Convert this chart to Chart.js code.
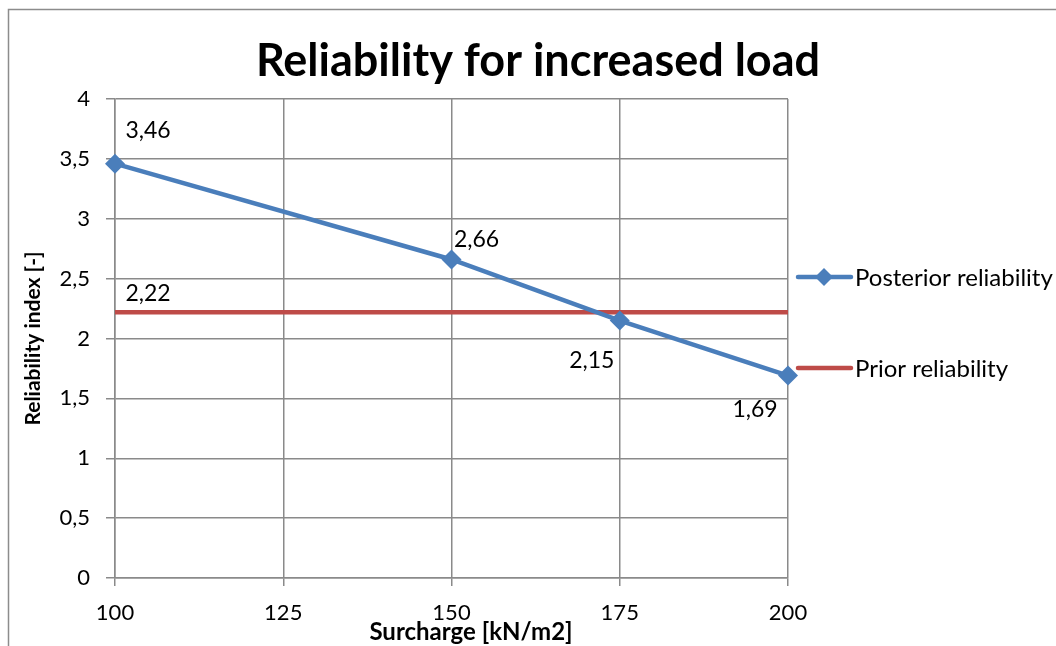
<!DOCTYPE html>
<html>
<head>
<meta charset="utf-8">
<script src="https://cdn.jsdelivr.net/npm/chart.js@4.4.1/dist/chart.umd.min.js"></script>
<style>
  html, body { margin: 0; padding: 0; background: #fff; }
  #wrap { width: 1056px; height: 646px; }
</style>
</head>
<body>
<div id="wrap"><canvas id="relChart" width="1056" height="646"></canvas></div>
<script>
// --- data ---
const surcharge = [100, 150, 175, 200];
const posterior = [3.46, 2.66, 2.15, 1.69];
const priorX = [100, 200];
const priorValue = 2.22;
const xTicks = [100, 125, 150, 175, 200];
const yTicks = [0, 0.5, 1, 1.5, 2, 2.5, 3, 3.5, 4];
const seriesNames = ['Posterior reliability', 'Prior reliability'];

// label offsets (px) for each posterior point, then the prior label
const postLabelOffset = [[33, -33], [25, -20], [-28, 40], [-33, 34]];
const priorLabelOffset = [33, -19];

const BLUE = '#4A7EBB';
const RED = '#BE4B48';
const GRID = '#8A8A8A';
const FONT = 'Lato, "Open Sans", sans-serif';

const fmt = v => String(v).replace('.', ',');

const extras = {
    id: 'extras',
    beforeDraw(chart) {
        const c = chart.ctx;
        c.save();
        c.fillStyle = '#fff';
        c.fillRect(0, 0, chart.width, chart.height);
        c.strokeStyle = '#8C8C8C';
        c.lineWidth = 1.5;
        c.strokeRect(8.5, 9.5, 1200, 800);
        c.restore();
    },
    afterDatasetsDraw(chart) {
        const c = chart.ctx;
        c.save();
        c.fillStyle = '#000';
        c.font = '23px ' + FONT;
        c.textAlign = 'center';
        c.textBaseline = 'middle';
        chart.getDatasetMeta(0).data.forEach((p, i) => {
            c.fillText(fmt(posterior[i]), p.x + postLabelOffset[i][0], p.y + postLabelOffset[i][1]);
        });
        const p0 = chart.getDatasetMeta(1).data[0];
        c.fillText(fmt(priorValue), p0.x + priorLabelOffset[0], p0.y + priorLabelOffset[1]);
        c.restore();
    },
    afterDraw(chart) {
        const c = chart.ctx;
        const a = chart.chartArea;
        c.save();
        c.fillStyle = '#000';
        c.textAlign = 'center';
        c.textBaseline = 'middle';
        // title
        c.font = 'bold 45px ' + FONT;
        c.fillText('Reliability for increased load', 538, 61);
        // x axis title
        c.font = 'bold 24px ' + FONT;
        c.fillText('Surcharge [kN/m2]', 471, 632);

        // legend
        c.textAlign = 'left';
        c.font = '24px ' + FONT;
        const lx = a.right + 10;
        const rows = [277, 368];
        const colors = [BLUE, RED];
        rows.forEach((ry, i) => {
            c.strokeStyle = colors[i];
            c.lineWidth = 4.5;
            c.lineCap = 'round';
            c.beginPath();
            c.moveTo(lx, ry);
            c.lineTo(lx + 53, ry);
            c.stroke();
            if (i === 0) {
                c.fillStyle = BLUE;
                c.beginPath();
                c.moveTo(lx + 26, ry - 9);
                c.lineTo(lx + 35, ry);
                c.lineTo(lx + 26, ry + 9);
                c.lineTo(lx + 17, ry);
                c.closePath();
                c.fill();
            }
            c.fillStyle = '#000';
            c.fillText(seriesNames[i], lx + 57, ry + 1);
        });
        c.restore();
    }
};

new Chart(document.getElementById('relChart'), {
    type: 'line',
    data: {
        datasets: [{
            label: seriesNames[0],
            data: surcharge.map((x, i) => ({ x: x, y: posterior[i] })),
            borderColor: BLUE,
            backgroundColor: BLUE,
            borderWidth: 4.5,
            pointStyle: 'rectRot',
            pointRadius: 10,
            pointBorderWidth: 0,
            pointBackgroundColor: BLUE,
            tension: 0,
            clip: false
        }, {
            label: seriesNames[1],
            data: priorX.map(x => ({ x: x, y: priorValue })),
            borderColor: RED,
            borderWidth: 4.5,
            pointRadius: 0,
            tension: 0,
            clip: false
        }]
    },
    options: {
        responsive: false,
        animation: false,
        layout: { padding: { top: 99, right: 268, left: 0, bottom: 0 } },
        plugins: {
            legend: { display: false },
            title: { display: false },
            tooltip: { enabled: false }
        },
        scales: {
            x: {
                type: 'linear',
                min: 100,
                max: 200,
                afterFit: s => { s.height = 68; },
                afterBuildTicks: s => { s.ticks = xTicks.map(v => ({ value: v })); },
                grid: { color: GRID, lineWidth: 1.5, tickLength: 8 },
                border: { color: GRID, width: 1.5 },
                ticks: {
                    color: '#000',
                    padding: 14,
                    font: { family: FONT, size: 22 }
                }
            },
            y: {
                min: 0,
                max: 4,
                afterFit: s => { s.width = 115; },
                afterBuildTicks: s => { s.ticks = yTicks.map(v => ({ value: v })); },
                grid: { color: GRID, lineWidth: 1.5, tickLength: 9 },
                border: { color: GRID, width: 1.5 },
                ticks: {
                    color: '#000',
                    padding: 16,
                    font: { family: FONT, size: 22 },
                    callback: v => fmt(v)
                },
                title: {
                    display: true,
                    text: 'Reliability index [-]',
                    color: '#000',
                    font: { family: FONT, size: 21, weight: 'bold' },
                    padding: { top: 21, bottom: 0 }
                }
            }
        }
    },
    plugins: [extras]
});
</script>
</body>
</html>
